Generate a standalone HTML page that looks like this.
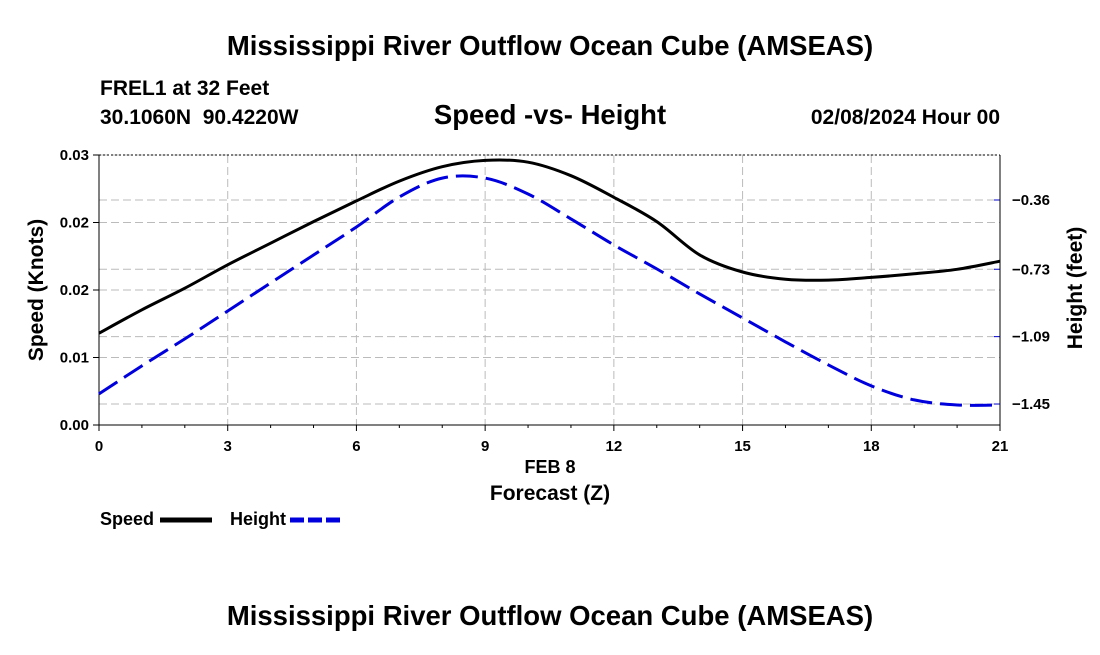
<!DOCTYPE html>
<html><head><meta charset="utf-8">
<style>
body{margin:0;background:#fff;width:1100px;height:650px;overflow:hidden;font-family:"Liberation Sans",sans-serif}
svg text{font-family:"Liberation Sans",sans-serif;font-weight:bold;fill:#000}
</style></head>
<body>
<svg width="1100" height="650">
<text x="550" y="55" font-size="27.5" text-anchor="middle">Mississippi River Outflow Ocean Cube (AMSEAS)</text>
<text x="100" y="95" font-size="21">FREL1 at 32 Feet</text>
<text x="100" y="124" font-size="21" xml:space="preserve">30.1060N  90.4220W</text>
<text x="550" y="124" font-size="27.5" text-anchor="middle">Speed -vs- Height</text>
<text x="1000" y="124" font-size="21" text-anchor="end">02/08/2024 Hour 00</text>
<g id="grid"></g>
<g id="axes"></g>
<g id="series"></g>
<text x="43" y="290" font-size="21" text-anchor="middle" transform="rotate(-90 43 290)">Speed (Knots)</text>
<text x="1082" y="288" font-size="21" text-anchor="middle" transform="rotate(-90 1082 288)">Height (feet)</text>
<text x="550" y="473" font-size="18" text-anchor="middle">FEB 8</text>
<text x="550" y="500" font-size="21" text-anchor="middle">Forecast (Z)</text>
<g><text x="100" y="525" font-size="18">Speed</text><line x1="160" y1="520" x2="212" y2="520" stroke="#000" stroke-width="5"/></g>
<g><text x="230" y="525" font-size="18">Height</text><line x1="290" y1="520" x2="342" y2="520" stroke="#0000dd" stroke-width="5" stroke-dasharray="14,4"/></g>
<text x="550" y="625" font-size="27.5" text-anchor="middle">Mississippi River Outflow Ocean Cube (AMSEAS)</text>
</svg>
<script>
const hours=[0,1,2,3,4,5,6,7,8,9,10,11,12,13,14,15,16,17,18,19,20,21];
const speed=[0.0102,0.0128,0.0152,0.0178,0.0202,0.0226,0.0249,0.0271,0.0287,0.0294,0.0292,0.0277,0.0253,0.0226,0.0189,0.0170,0.0162,0.0161,0.0164,0.0168,0.0173,0.0182];
const height=[-1.396,-1.246,-1.102,-0.953,-0.803,-0.654,-0.504,-0.344,-0.243,-0.243,-0.328,-0.461,-0.600,-0.728,-0.862,-0.990,-1.118,-1.241,-1.353,-1.428,-1.455,-1.455];
const xTicks=[0,3,6,9,12,15,18,21];
const yTickVals=[0,0.0075,0.015,0.0225,0.03];
const yTickLabels=["0.00","0.01","0.02","0.02","0.03"];
const y2Ticks=[-0.36,-0.73,-1.09,-1.45];
const L=99,R=1000,T=155,B=425;
const x=h=>L+(h-0)/21*(R-L);
const y=v=>B-v/0.03*(B-T);
const y2=v=>200+(-0.36-v)/0.3633*68;
const NS="http://www.w3.org/2000/svg";
function mk(p,tag,a){const e=document.createElementNS(NS,tag);for(const k in a)e.setAttribute(k,a[k]);p.appendChild(e);return e;}
const grid=document.getElementById('grid'),axes=document.getElementById('axes'),ser=document.getElementById('series');
xTicks.forEach(h=>{
 const g=mk(grid,'line',{x1:x(h),x2:x(h),y1:T,y2:B,stroke:'#bbb','stroke-dasharray':'8,4'});
 
 
 mk(axes,'line',{x1:x(h),x2:x(h),y1:B,y2:B+6,stroke:'#000'});
 const t=mk(axes,'text',{x:x(h),y:B+26,'font-size':15,'text-anchor':'middle'});t.textContent=h;
 
 
});
for(let h=1;h<21;h++){if(h%3)mk(axes,'line',{x1:x(h),x2:x(h),y1:B,y2:B+3,stroke:'#000'});}
yTickVals.forEach((v,i)=>{
 const g=mk(grid,'line',{x1:L,x2:R,y1:y(v),y2:y(v),stroke:'#bbb','stroke-dasharray':'8,4'});
 
 
 mk(axes,'line',{x1:L-6,x2:L,y1:y(v),y2:y(v),stroke:'#000'});
 const t=mk(axes,'text',{x:L-10,y:y(v)+5,'font-size':15,'text-anchor':'end'});t.textContent=yTickLabels[i];
 
 
});
y2Ticks.forEach(v=>{
 const g=mk(grid,'line',{x1:L,x2:R,y1:y2(v),y2:y2(v),stroke:'#bbb','stroke-dasharray':'8,4'});
 
 
 mk(axes,'line',{x1:R,x2:R-6,y1:y2(v),y2:y2(v),stroke:'#00c'});
 const t=mk(axes,'text',{x:R+12,y:y2(v)+5,'font-size':15});t.textContent=v.toFixed(2).replace('-','\u2212');
 
 
});
mk(axes,'line',{x1:L,x2:R,y1:T,y2:T,stroke:'#000','stroke-dasharray':'2,2'});
mk(axes,'line',{x1:L,x2:R,y1:B,y2:B,stroke:'#000'});
mk(axes,'line',{x1:L,x2:L,y1:T,y2:B,stroke:'#000'});
mk(axes,'line',{x1:R,x2:R,y1:T,y2:B,stroke:'#000'});
function path(pts){let d=`M${pts[0][0]},${pts[0][1]}`;for(let i=0;i<pts.length-1;i++){const p0=pts[i-1]||pts[i],p1=pts[i],p2=pts[i+1],p3=pts[i+2]||p2;d+=` C${p1[0]+(p2[0]-p0[0])/6},${p1[1]+(p2[1]-p0[1])/6} ${p2[0]-(p3[0]-p1[0])/6},${p2[1]-(p3[1]-p1[1])/6} ${p2[0]},${p2[1]}`;}return d;}
const s=mk(ser,'path',{d:path(hours.map((h,i)=>[x(h),y(speed[i])])),fill:'none',stroke:'#000','stroke-width':3});


const hh=mk(ser,'path',{d:path(hours.map((h,i)=>[x(h),y2(height[i])])),fill:'none',stroke:'#0000dd','stroke-width':3,'stroke-dasharray':'22,8'});


</script>
</body></html>
